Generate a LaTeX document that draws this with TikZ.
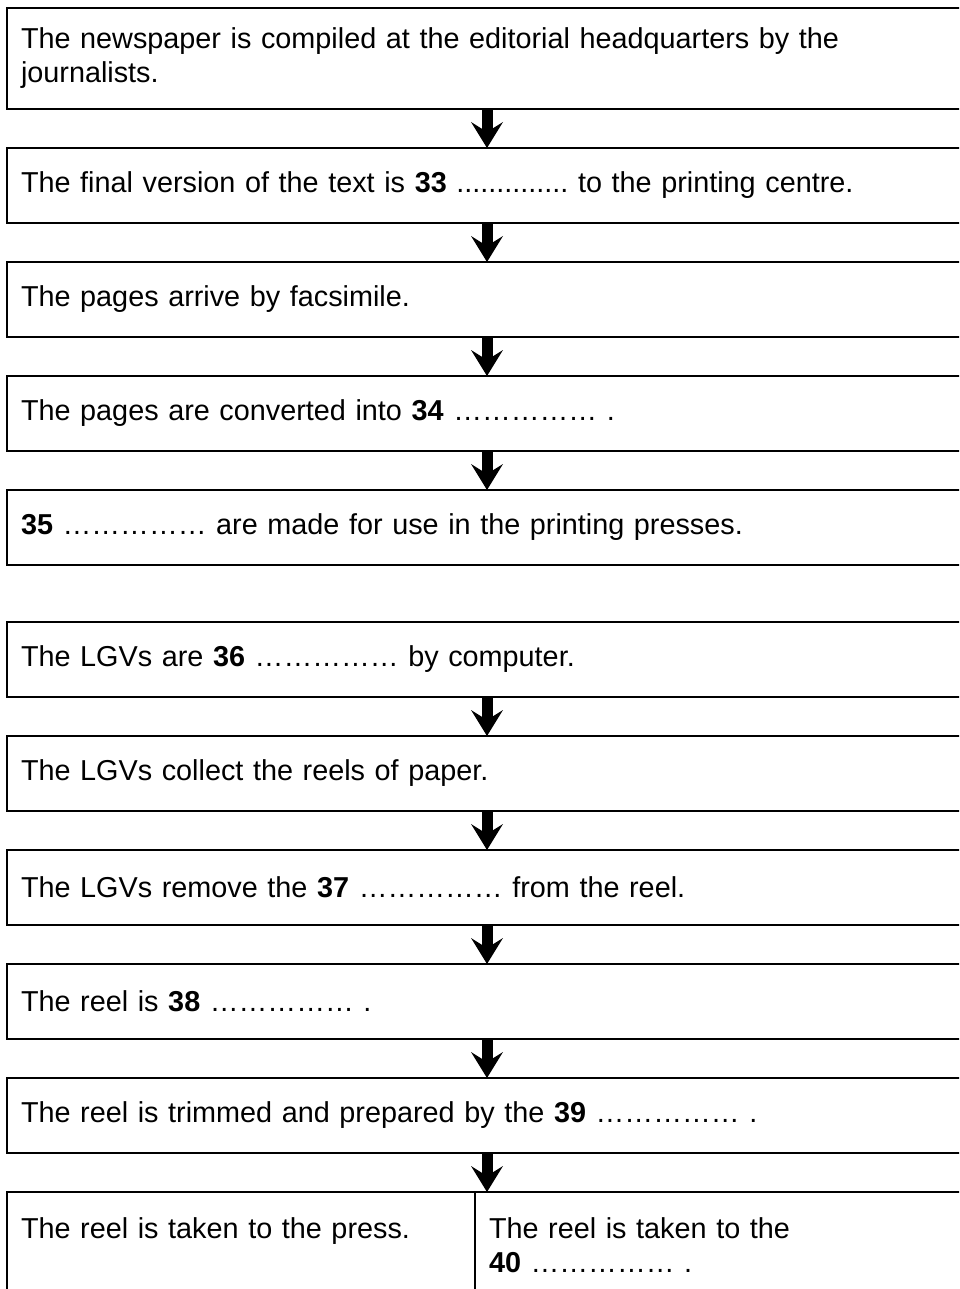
\documentclass[tikz,border=0pt]{standalone}
\usepackage{fontspec}
\setmainfont{Liberation Sans}
\usetikzlibrary{arrows.meta,calc}
\frenchspacing
\begin{document}
\begin{tikzpicture}[x=1pt,y=-1pt,
  box/.style={draw, line width=2.8pt, anchor=north west, outer sep=0pt,
    minimum width=990pt, minimum height=75pt, inner xsep=14pt, inner ysep=0pt,
    text width=962pt, align=left, font=\frenchspacing\fontsize{28.8pt}{34pt}\selectfont},
  halfbox/.style={box, minimum width=468pt, text width=440pt},
  downarr/.style={line width=11pt, -{Stealth[length=26pt, width=32pt, inset=10pt, line width=0pt]}}]
\useasboundingbox (0,0) rectangle (959,1289);
\clip (0,0) rectangle (959,1289);
\coordinate (ax) at (487,0);
\node[box, minimum height=101pt] (b1) at (7,8) {The newspaper is compiled at the editorial headquarters by the\\journalists.};
\node[box] (b2) at (7,148) {The final version of the text is \textbf{33} .............. to the printing centre.};
\node[box] (b3) at (7,262) {The pages arrive by facsimile.};
\node[box] (b4) at (7,376) {The pages are converted into \textbf{34} …………… .};
\node[box] (b5) at (7,490) {\textbf{35} …………… are made for use in the printing presses.};
\node[box] (b6) at (7,622) {The LGVs are \textbf{36} …………… by computer.};
\node[box] (b7) at (7,736) {The LGVs collect the reels of paper.};
\node[box] (b8) at (7,850) {The LGVs remove the \textbf{37} …………… from the reel.};
\node[box] (b9) at (7,964) {The reel is \textbf{38} …………… .};
\node[box] (b10) at (7,1078) {The reel is trimmed and prepared by the \textbf{39} …………… .};
\node[halfbox, minimum height=106pt] (b11a) at (7,1192) {The reel is taken to the press.\\\mbox{}};
\node[box, minimum height=106pt, minimum width=500pt, text width=472pt] (b11b) at (475,1192) {The reel is taken to the\\\textbf{40} …………… .};
\draw[downarr] (b1.south -| ax) -- (b2.north -| ax);
\draw[downarr] (b2.south -| ax) -- (b3.north -| ax);
\draw[downarr] (b3.south -| ax) -- (b4.north -| ax);
\draw[downarr] (b4.south -| ax) -- (b5.north -| ax);
\draw[downarr] (b6.south -| ax) -- (b7.north -| ax);
\draw[downarr] (b7.south -| ax) -- (b8.north -| ax);
\draw[downarr] (b8.south -| ax) -- (b9.north -| ax);
\draw[downarr] (b9.south -| ax) -- (b10.north -| ax);
\draw[downarr] (b10.south -| ax) -- (b11b.north -| ax);
\end{tikzpicture}
\end{document}
